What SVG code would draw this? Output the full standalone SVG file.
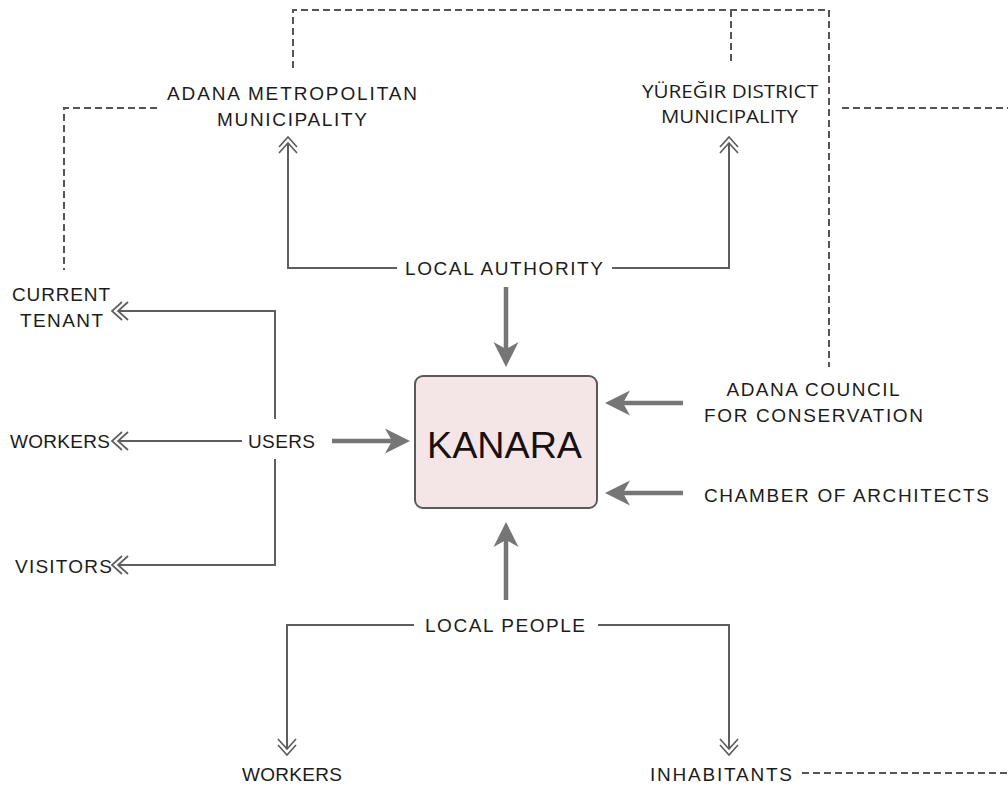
<svg xmlns="http://www.w3.org/2000/svg" width="1008" height="785" viewBox="0 0 1008 785">
<style>
.t{font-family:"Liberation Sans",Arial,sans-serif;font-size:19px;fill:#1c1c1c;}
.o{font-family:"Open Sans","Liberation Sans",sans-serif;font-size:19px;fill:#1c1c1c;}
.k{font-family:"Liberation Sans",Arial,sans-serif;font-size:36px;fill:#1a1010;}
.thin{fill:none;stroke:#5e5e5e;stroke-width:2;marker-end:url(#dbl);}
.thick{fill:none;stroke:#767676;stroke-width:4.5;marker-end:url(#head);}
.dash{fill:none;stroke:#555;stroke-width:2;stroke-dasharray:7 4;}
</style>
<defs>
<marker id="dbl" markerUnits="userSpaceOnUse" orient="auto" refX="-6" refY="0" markerWidth="40" markerHeight="40" overflow="visible">
<path d="M-10,-9 L0,0 L-10,9 M-16,-9 L-6,0 L-16,9" fill="none" stroke="#5e5e5e" stroke-width="1.7"/>
</marker>
<marker id="head" markerUnits="userSpaceOnUse" orient="auto" refX="-18" refY="0" markerWidth="40" markerHeight="40" overflow="visible">
<path d="M0,0 L-25,-12.5 L-18,0 L-25,12.5 Z" fill="#767676"/>
</marker>
</defs>
<rect width="1008" height="785" fill="#ffffff"/>
<g id="connectors">
<path class="dash" d="M293,68 V10 H829 V367"/>
<path class="dash" d="M731,10 V65"/>
<path class="dash" d="M157,108 H64 V270"/>
<path class="dash" d="M842,108 H1008"/>
<path class="dash" d="M802,773 H1008"/>
<path class="thin" d="M397,268 H288 V143"/>
<path class="thin" d="M612,268 H729 V143"/>
<path class="thin" d="M275,419 V311 H118"/>
<path class="thin" d="M242,441 H118"/>
<path class="thin" d="M275,459 V565 H118"/>
<path class="thin" d="M414,625 H287 V749"/>
<path class="thin" d="M598,625 H729 V749"/>
<path class="thick" d="M506,287 V349"/>
<path class="thick" d="M332,441 H392"/>
<path class="thick" d="M683,403 H623"/>
<path class="thick" d="M683,493 H623"/>
<path class="thick" d="M506,600 V540"/>
</g>
<g id="kanara">
<rect x="415" y="376" width="182" height="132" rx="8" fill="#f4e6e6" stroke="#5a5a5a" stroke-width="2"/>
<text class="k" x="504.5" y="458" text-anchor="middle" textLength="155" lengthAdjust="spacingAndGlyphs">KANARA</text>
</g>
<g id="adana-metropolitan">
<text class="t" x="292" y="100" text-anchor="middle" textLength="250" lengthAdjust="spacing">ADANA METROPOLITAN</text>
<text class="t" x="292" y="126" text-anchor="middle" textLength="150" lengthAdjust="spacing">MUNICIPALITY</text>
</g>
<g id="yuregir">
<text class="o" x="730" y="98" text-anchor="middle" textLength="176" lengthAdjust="spacingAndGlyphs">YÜREĞIR DISTRICT</text>
<text class="o" x="729.5" y="123" text-anchor="middle" textLength="137" lengthAdjust="spacingAndGlyphs">MUNICIPALITY</text>
</g>
<g id="local-authority">
<text class="t" x="504" y="275" text-anchor="middle" textLength="198" lengthAdjust="spacing">LOCAL AUTHORITY</text>
</g>
<g id="current-tenant">
<text class="t" x="61" y="301" text-anchor="middle" textLength="98" lengthAdjust="spacing">CURRENT</text>
<text class="t" x="61.5" y="327" text-anchor="middle" textLength="83" lengthAdjust="spacing">TENANT</text>
</g>
<g id="workers-users">
<text class="t" x="10" y="448" textLength="100" lengthAdjust="spacing">WORKERS</text>
</g>
<g id="users">
<text class="t" x="248" y="448" textLength="67" lengthAdjust="spacing">USERS</text>
</g>
<g id="visitors">
<text class="t" x="15" y="573" textLength="97" lengthAdjust="spacing">VISITORS</text>
</g>
<g id="adana-council">
<text class="t" x="813" y="396" text-anchor="middle" textLength="173" lengthAdjust="spacing">ADANA COUNCIL</text>
<text class="t" x="813.5" y="422" text-anchor="middle" textLength="219" lengthAdjust="spacing">FOR CONSERVATION</text>
</g>
<g id="chamber">
<text class="t" x="704" y="502" textLength="285" lengthAdjust="spacing">CHAMBER OF ARCHITECTS</text>
</g>
<g id="local-people">
<text class="t" x="505" y="632" text-anchor="middle" textLength="160" lengthAdjust="spacing">LOCAL PEOPLE</text>
</g>
<g id="workers-local">
<text class="t" x="242" y="781" textLength="100" lengthAdjust="spacing">WORKERS</text>
</g>
<g id="inhabitants">
<text class="t" x="650" y="781" textLength="142" lengthAdjust="spacing">INHABITANTS</text>
</g>
</svg>
